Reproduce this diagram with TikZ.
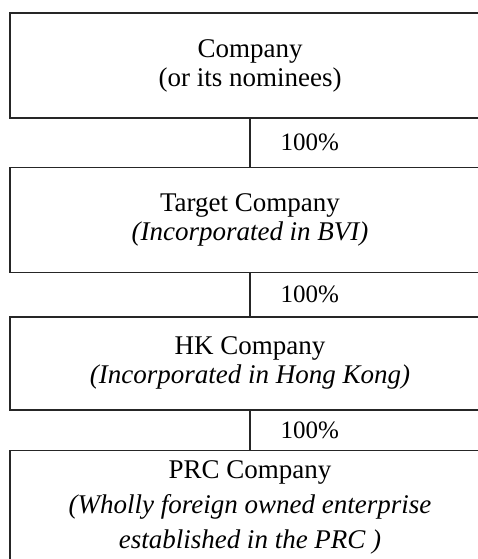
\documentclass[tikz,border=0pt]{standalone}
\usepackage{fontspec}
\setmainfont{Liberation Serif}
\usetikzlibrary{positioning}

\tikzset{
  entity/.style={draw=black!85, line width=1.4pt, minimum width=480pt, inner sep=0pt,
    align=center, font=\fontsize{27}{29}\selectfont},
  share/.style={font=\fontsize{25}{28}\selectfont, inner sep=0pt}
}

\begin{document}
\begin{tikzpicture}[x=1pt,y=1pt]
  \useasboundingbox (0,0) rectangle (478,-559);
  \clip (0,0) rectangle (478,-559);
  \node[entity, minimum height=105pt] (company) at (250,-65.5)
    {Company\\(or its nominees)};
  \node[entity, minimum height=105pt, below=48pt of company] (target)
    {Target Company\\\textit{(Incorporated in BVI)}};
  \node[entity, minimum height=93pt, below=43pt of target] (hk)
    {HK Company\\\textit{(Incorporated in Hong Kong)}};
  \node[entity, minimum height=115pt, below=39pt of hk,
    font=\fontsize{27}{35}\selectfont] (prc)
    {PRC Company\\\textit{(Wholly foreign owned enterprise}\\\textit{established in the PRC )}};
  \path[draw=black!85, line width=1.4pt]
    (company) edge node[share, right=30pt]{100\%} (target);
  \path[draw=black!85, line width=1.4pt]
    (target) edge node[share, right=30pt]{100\%} (hk);
  \path[draw=black!85, line width=1.4pt]
    (hk) edge node[share, right=30pt]{100\%} (prc);
\end{tikzpicture}
\end{document}
